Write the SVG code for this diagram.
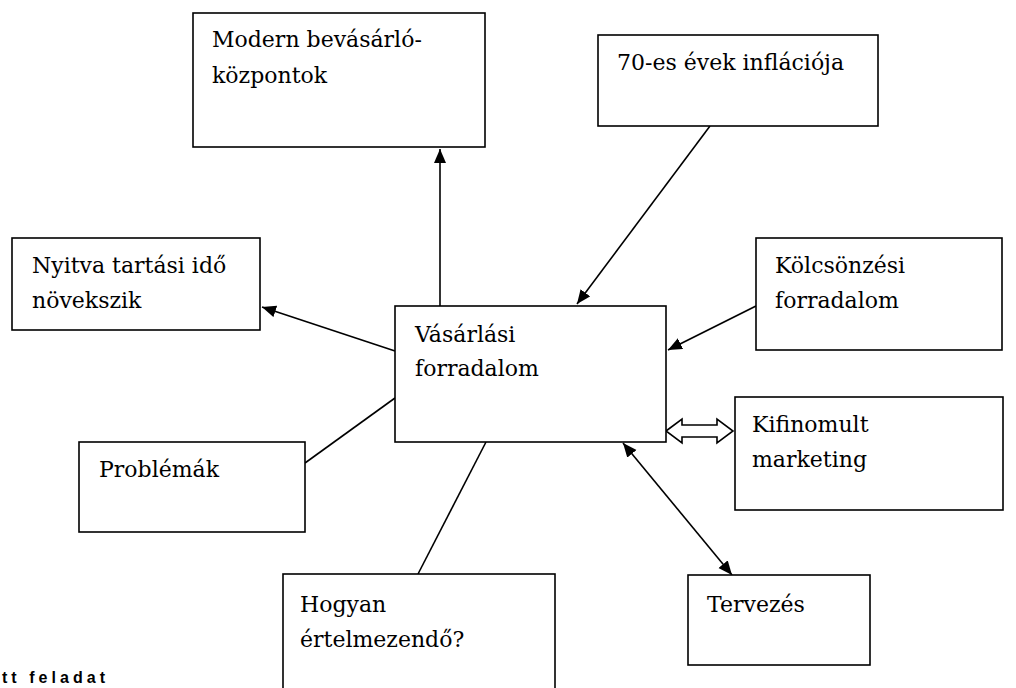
<svg xmlns="http://www.w3.org/2000/svg" width="1016" height="688" viewBox="0 0 1016 688">
<style>
.box{fill:#fff;stroke:#000;stroke-width:1.6}
.lbl{font-family:"DejaVu Serif","Liberation Serif",serif;font-size:22px;fill:#000}
.ln{stroke:#000;stroke-width:1.6;fill:none}
.bold{font-family:"Liberation Sans",Arial,sans-serif;font-weight:bold;font-size:16px;fill:#000}
</style>
<defs>
<marker id="ah" markerUnits="userSpaceOnUse" markerWidth="15" markerHeight="13" refX="14" refY="6" orient="auto-start-reverse">
<path d="M0,0 L14,6 L0,12 z" fill="#000"/>
</marker>
</defs>
<rect width="1016" height="688" fill="#fff"/>
<g id="connectors">
<line class="ln" x1="440" y1="306" x2="440" y2="149" marker-end="url(#ah)"/>
<line class="ln" x1="710" y1="126" x2="577" y2="304" marker-end="url(#ah)"/>
<line class="ln" x1="395" y1="351" x2="262" y2="307" marker-end="url(#ah)"/>
<line class="ln" x1="756" y1="306" x2="668" y2="350" marker-end="url(#ah)"/>
<line class="ln" x1="305" y1="463" x2="395" y2="398"/>
<line class="ln" x1="418" y1="574" x2="486" y2="442"/>
<line class="ln" x1="623" y1="443" x2="732" y2="575" marker-start="url(#ah)" marker-end="url(#ah)"/>
<polygon points="666,431 682,419 682,425 717,425 717,419 733,431 717,443 717,437 682,437 682,443" fill="#fff" stroke="#000" stroke-width="1.6" stroke-linejoin="miter"/>
</g>
<g id="modern">
<rect class="box" x="193" y="13" width="292" height="134"/>
<text class="lbl" x="212" y="47">Modern bevásárló-</text>
<text class="lbl" x="212" y="83">központok</text>
</g>
<g id="inflacio">
<rect class="box" x="598" y="35" width="280" height="91"/>
<text class="lbl" x="617" y="70">70-es évek inflációja</text>
</g>
<g id="nyitva">
<rect class="box" x="12" y="238" width="248" height="92"/>
<text class="lbl" x="32" y="273">Nyitva tartási idő</text>
<text class="lbl" x="32" y="308">növekszik</text>
</g>
<g id="kolcsonzesi">
<rect class="box" x="756" y="238" width="246" height="112"/>
<text class="lbl" x="775" y="273">Kölcsönzési</text>
<text class="lbl" x="775" y="308">forradalom</text>
</g>
<g id="vasarlasi">
<rect class="box" x="395" y="306" width="271" height="136"/>
<text class="lbl" x="415" y="342">Vásárlási</text>
<text class="lbl" x="415" y="376">forradalom</text>
</g>
<g id="kifinomult">
<rect class="box" x="735" y="397" width="268" height="113"/>
<text class="lbl" x="752" y="432">Kifinomult</text>
<text class="lbl" x="752" y="467">marketing</text>
</g>
<g id="problemak">
<rect class="box" x="79" y="442" width="226" height="90"/>
<text class="lbl" x="99" y="477">Problémák</text>
</g>
<g id="hogyan">
<rect class="box" x="283" y="574" width="272" height="130"/>
<text class="lbl" x="300" y="612">Hogyan</text>
<text class="lbl" x="300" y="647">értelmezendő?</text>
</g>
<g id="tervezes">
<rect class="box" x="688" y="575" width="182" height="90"/>
<text class="lbl" x="707" y="612">Tervezés</text>
</g>
<text class="bold" x="2" y="683" textLength="103">tt feladat</text>
</svg>
